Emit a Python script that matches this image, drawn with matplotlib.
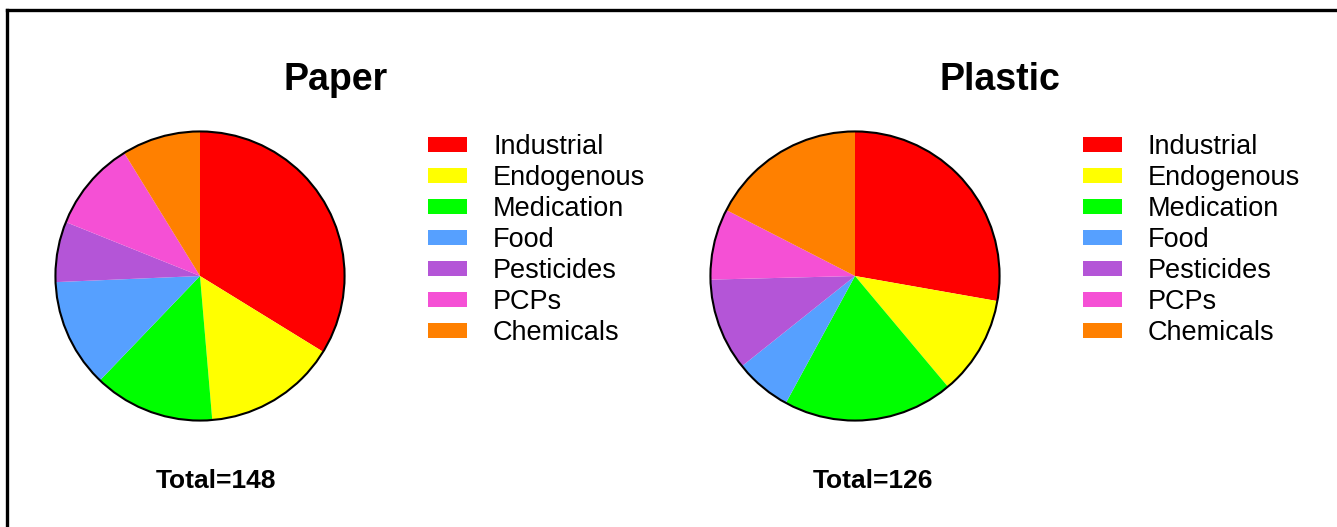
import matplotlib
matplotlib.use("Agg")
import matplotlib.pyplot as plt
from matplotlib.patches import Circle
from matplotlib.lines import Line2D

plt.rcParams['font.family'] = ['Liberation Sans', 'DejaVu Sans']

categories = ["Industrial", "Endogenous", "Medication", "Food", "Pesticides", "PCPs", "Chemicals"]
paper_values = [50, 22, 20, 18, 10, 15, 13]
plastic_values = [35, 14, 24, 8, 13, 10, 22]
colors = ["#FF0000", "#FFFF00", "#00FF00", "#56A0FF", "#B455D7", "#F550D5", "#FF8000"]
titles = ["Paper", "Plastic"]
totals = ["Total=148", "Total=126"]

W, H = 1337, 527
fig = plt.figure(figsize=(W / 100, H / 100), dpi=100)

def fx(px):
    return px / W

def fy(py):
    return 1 - py / H

R = 146
centers = [(200, 276), (855, 276)]
title_x = [336, 1000]
total_x = [216, 873]
legend_x = [428, 1083]

for i, vals in enumerate([paper_values, plastic_values]):
    cx, cy = centers[i]
    ax = fig.add_axes([fx(cx - R), fy(cy + R), R * 2 / W, R * 2 / H])
    wedges, _ = ax.pie(vals, colors=colors, startangle=90, counterclock=False,
                       wedgeprops=dict(linewidth=0, antialiased=True))
    ax.add_patch(Circle((0, 0), 1.0, fill=False, edgecolor='black', linewidth=1.5, zorder=5))
    ax.set_xlim(-1.01, 1.01)
    ax.set_ylim(-1.01, 1.01)
    ax.set_aspect('equal')
    ax.axis('off')

    fig.text(fx(title_x[i]), fy(90), titles[i], ha='center', va='baseline',
             fontsize=27, fontweight='bold')
    fig.text(fx(total_x[i]), fy(488), totals[i], ha='center', va='baseline',
             fontsize=19, fontweight='bold')

    fig.legend(wedges, categories, loc='upper left',
               bbox_to_anchor=(fx(legend_x[i]), fy(134)),
               frameon=False, fontsize=19.5, borderpad=0, borderaxespad=0,
               handlelength=1.45, handleheight=0.45, handletextpad=0.95,
               labelspacing=0.185)

# outer frame (top and left edges visible)
fig.add_artist(Line2D([fx(7), 1.0], [fy(10), fy(10)], color='black', linewidth=2.4,
                      transform=fig.transFigure))
fig.add_artist(Line2D([fx(7), fx(7)], [fy(10), 0.0], color='black', linewidth=2.4,
                      transform=fig.transFigure))

fig.savefig("out.png", dpi=100)
